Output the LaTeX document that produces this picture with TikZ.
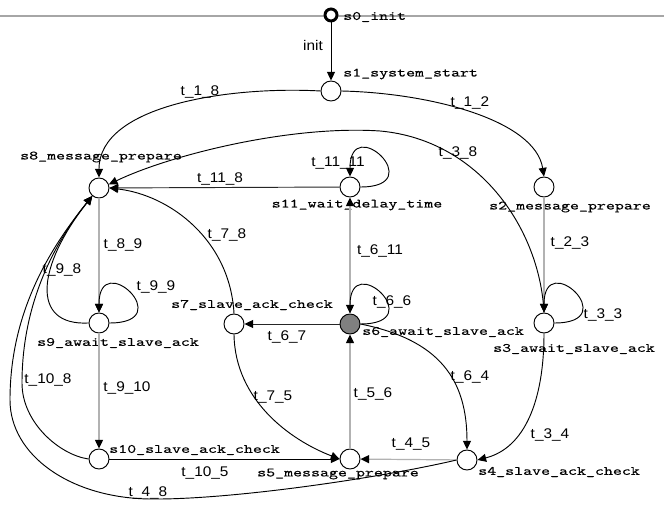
\documentclass[tikz,border=0pt]{standalone}
\usepackage{fontspec}
\newfontfamily\statefont{lmmono10-regular.otf}[FakeStretch=1.35,FakeBold=0.3]
\newfontfamily\edgefont{Liberation Sans}[FakeStretch=1.1]
\usetikzlibrary{arrows.meta}

\tikzset{
  >={Triangle[length=6.5pt,width=6pt,color=black]},
  state/.style={circle, draw, line width=0.7pt, minimum size=15pt, inner sep=0pt, fill=white},
  initstate/.style={circle, draw, line width=2.2pt, minimum size=9pt, inner sep=0pt, fill=white},
  nlbl/.style={font=\statefont\fontsize{9.5}{11}\selectfont, inner sep=0pt},
  elbl/.style={font=\edgefont\fontsize{10.5}{12}\selectfont, inner sep=0pt},
  trans/.style={->, line width=0.7pt},
  graytrans/.style={->, line width=0.9pt, draw=gray!60},
  topline/.style={line width=1.1pt, draw=gray!70},
}

\begin{document}
\begin{tikzpicture}[x=0.75pt,y=-0.75pt]
\useasboundingbox (0,0) rectangle (664,505);
\fill[white] (0,0) rectangle (664,505);

%Top rule
\draw[topline] (0,16) -- (664,16);

%States
\node[initstate] (s0) at (331,15) {};
\node[state] (s1) at (331,91) {};
\node[state] (s2) at (544,187) {};
\node[state] (s3) at (544,323) {};
\node[state] (s4) at (467,460) {};
\node[state] (s5) at (350,459) {};
\node[state, fill=gray] (s6) at (350,324) {};
\node[state] (s7) at (234,324) {};
\node[state] (s8) at (99,188) {};
\node[state] (s9) at (99,323) {};
\node[state] (s10) at (99,459) {};
\node[state] (s11) at (350,187) {};

%State names
\node[nlbl, anchor=west] (l0) at (343,17) {s0\_init};
\node[nlbl, anchor=west] (l1) at (343,74) {s1\_system\_start};
\node[nlbl] (l2) at (570,207) {s2\_message\_prepare};
\node[nlbl] (l3) at (574,349) {s3\_await\_slave\_ack};
\node[nlbl, anchor=west] (l4) at (478,472) {s4\_slave\_ack\_check};
\node[nlbl] (l5) at (338,474) {s5\_message\_prepare};
\node[nlbl, anchor=west] (l6) at (362,332) {s6\_await\_slave\_ack};
\node[nlbl] (l7) at (252,305) {s7\_slave\_ack\_check};
\node[nlbl] (l8) at (101,157) {s8\_message\_prepare};
\node[nlbl] (l9) at (118,343) {s9\_await\_slave\_ack};
\node[nlbl, anchor=west] (l10) at (109,450) {s10\_slave\_ack\_check};
\node[nlbl] (l11) at (357,205) {s11\_wait\_delay\_time};

%Straight transitions
\draw[trans] (s0) -- (s1);
\draw[trans, draw=black!85] (s11) -- (s8);
\draw[graytrans] (s2) -- (s3);
\draw[graytrans] (s8) -- (s9);
\draw[graytrans] (s9) -- (s10);
\draw[graytrans] (s6) -- (s11);
\draw[graytrans] (s5) -- (s6);
\draw[graytrans] (s4) -- (s5);
\draw[trans, draw=black!85] (s6) -- (s7);
\draw[trans] (s10) -- (s5);

%Self loops
\foreach \s in {s3,s6,s9,s11}
  \draw[trans] (\s.east) .. controls +(70,0) and +(0,-65) .. (\s.north);

%Curved transitions
\draw[trans] (s1.west) .. controls (230,86) and (99,105) .. (s8.north);
\draw[trans] (s1.east) .. controls (430,93) and (535,120) .. (s2.north);
\draw[trans] (s3.north) .. controls (540,230) and (480,140) .. (380,131)
  .. controls (290,125) and (170,155) .. (s8.20);
\draw[trans] (s3.south) .. controls (544,400) and (525,448) .. (s4.east);
\draw[trans] (s6.east) .. controls (440,340) and (467,380) .. (s4.north);
\draw[trans] (s7.south) .. controls (235,400) and (290,440) .. (s5.west);
\draw[trans] (s7.north) .. controls (230,240) and (170,195) .. (s8.east);
\draw[trans] (s9.west) .. controls (30,326) and (37,266) .. (s8.230);
\draw[trans] (s10.west) .. controls (60,455) and (22,423) .. (22,383)
  .. controls (22,303) and (55,242) .. (s8.230);
\draw[trans] (s4.west) .. controls (380,478) and (230,500) .. (150,499)
  .. controls (70,498) and (10,455) .. (10,400)
  .. controls (10,310) and (52,246) .. (s8.230);

%Transition names
\node[elbl] (init) at (313,45) {init};
\node[elbl] (t18) at (200,92) {t\_1\_8};
\node[elbl] (t12) at (470,103) {t\_1\_2};
\node[elbl] (t1111) at (338,163) {t\_11\_11};
\node[elbl] (t118) at (220,179) {t\_11\_8};
\node[elbl] (t38) at (458,153) {t\_3\_8};
\node[elbl] (t78) at (227,235) {t\_7\_8};
\node[elbl] (t89) at (123,245) {t\_8\_9};
\node[elbl] (t23) at (570,243) {t\_2\_3};
\node[elbl] (t611) at (380,251) {t\_6\_11};
\node[elbl] (t98) at (62,270) {t\_9\_8};
\node[elbl] (t99) at (156,287) {t\_9\_9};
\node[elbl] (t66) at (392,302) {t\_6\_6};
\node[elbl] (t33) at (603,315) {t\_3\_3};
\node[elbl] (t67) at (287,337) {t\_6\_7};
\node[elbl] (t64) at (470,377) {t\_6\_4};
\node[elbl] (t108) at (48,380) {t\_10\_8};
\node[elbl] (t910) at (127,388) {t\_9\_10};
\node[elbl] (t56) at (373,394) {t\_5\_6};
\node[elbl] (t75) at (273,397) {t\_7\_5};
\node[elbl] (t34) at (550,435) {t\_3\_4};
\node[elbl] (t45) at (411,444) {t\_4\_5};
\node[elbl] (t105) at (205,473) {t\_10\_5};
\node[elbl] (t48) at (148,493) {t\_4\_8};

\end{tikzpicture}
\end{document}
